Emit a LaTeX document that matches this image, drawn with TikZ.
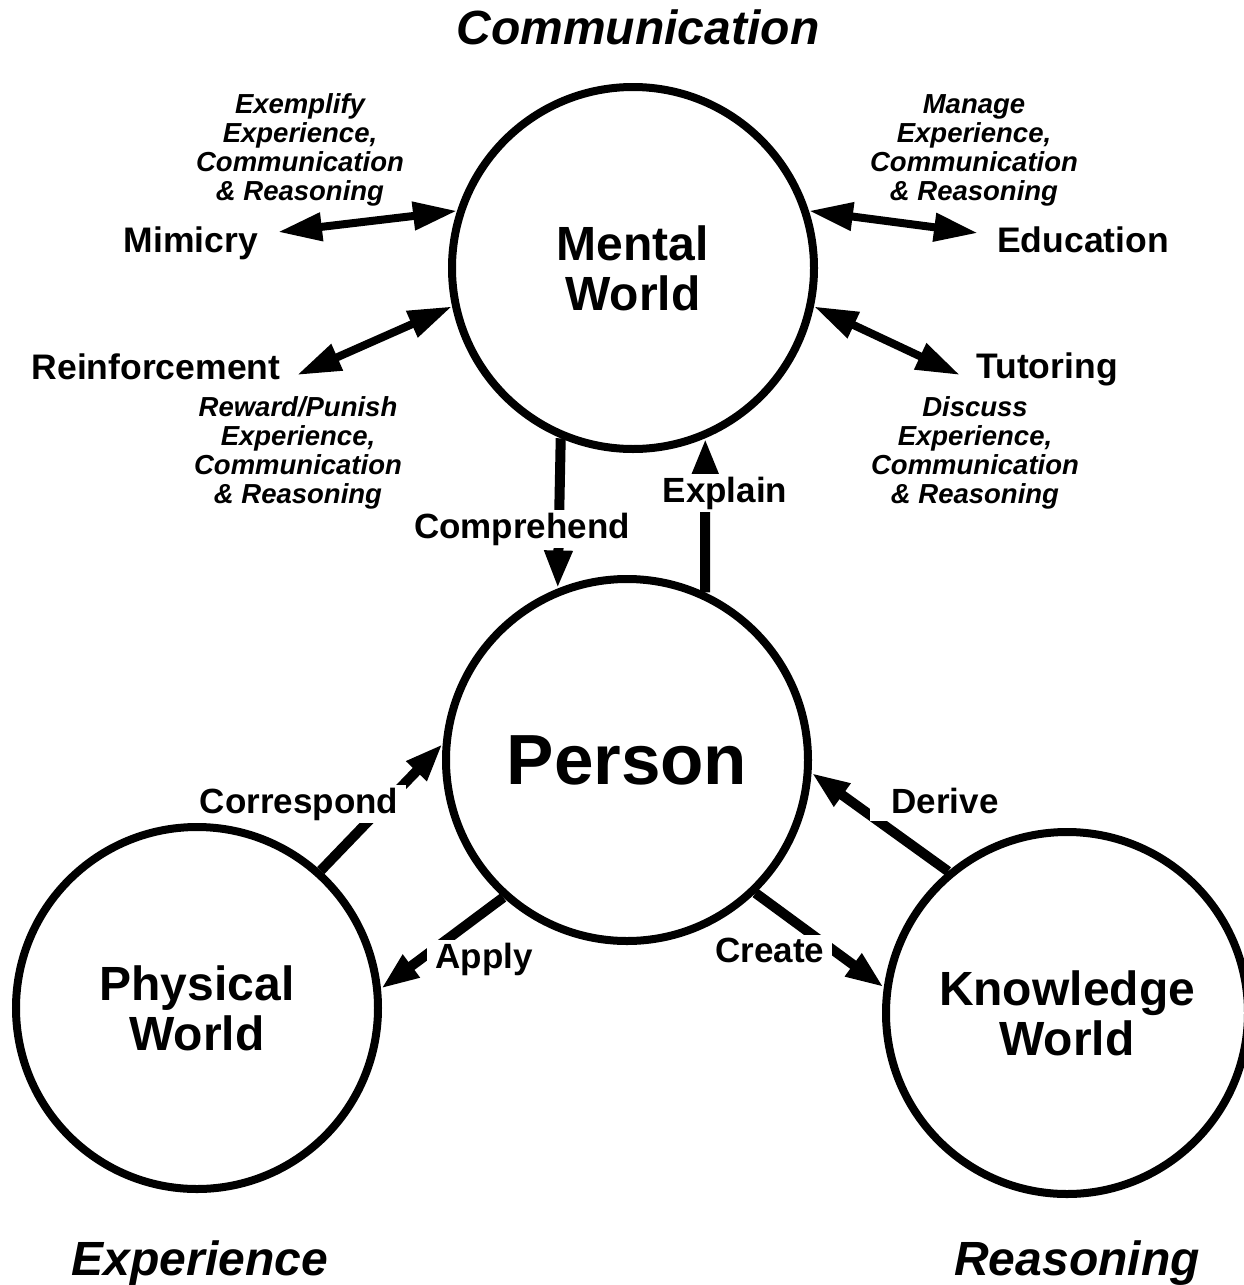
\documentclass[tikz,border=0pt]{standalone}
\usepackage{fontspec}
\setmainfont{Liberation Sans}
\usetikzlibrary{arrows.meta}

\begin{document}
\begin{tikzpicture}[x=1pt,y=-1pt,
        mundo/.style={circle,draw,line width=8pt,minimum size=362pt,inner sep=0pt,align=center,
            font=\fontsize{48}{50}\selectfont\bfseries},
        lado/.style={anchor=base,font=\fontsize{35.5}{38}\selectfont\bfseries},
        nota/.style={align=center,font=\fontsize{27.5}{29}\selectfont\bfseries\itshape},
        verbo/.style={anchor=base,fill=white,inner xsep=8pt,inner ysep=3pt,
            font=\fontsize{35}{38}\selectfont\bfseries},
        titulo/.style={anchor=base,font=\fontsize{48}{50}\selectfont\bfseries\itshape},
        flecha/.style={line width=10pt,-{Triangle[length=38pt,width=26pt]}},
        doble/.style={line width=8pt,{Triangle[length=44pt,width=27pt]}-{Triangle[length=44pt,width=27pt]}}]
    \useasboundingbox (0,0) rectangle (1243,1285);

    % mundos
    \node[mundo] (mental) at (633,268) {Mental\\World};
    \node[mundo,font=\fontsize{71}{71}\selectfont\bfseries] (person) at (627,760) {Person};
    \node[mundo] (fisico) at (197,1008) {Physical\\World};
    \node[mundo] (saber) at (1067,1013) {Knowledge\\World};

    % titulos
    \node[titulo] (communication) at (638,44) {Communication};
    \node[titulo] (experience) at (200,1275) {Experience};
    \node[titulo] (reasoning) at (1077,1275) {Reasoning};

    % alrededor del mundo mental
    \node[lado] (mimicry) at (191,252) {Mimicry};
    \node[lado] (education) at (1083,252) {Education};
    \node[lado] (reinforcement) at (156,379) {Reinforcement};
    \node[lado] (tutoring) at (1047,378) {Tutoring};
    \node[nota] (exemplify) at (300,150) {Exemplify\\Experience,\\Communication\\\& Reasoning};
    \node[nota] (manage) at (974,150) {Manage\\Experience,\\Communication\\\& Reasoning};
    \node[nota] (reward) at (298,453) {Reward/Punish\\Experience,\\Communication\\\& Reasoning};
    \node[nota] (discuss) at (975,453) {Discuss\\Experience,\\Communication\\\& Reasoning};

    \coordinate (mimicry tip) at (278,232);
    \coordinate (reinforcement tip) at (297,375);
    \coordinate (education tip) at (978,233);
    \coordinate (tutoring tip) at (960,375);
    \foreach \quien/\ang in {mimicry/162, reinforcement/192, education/18, tutoring/348}
        \draw[doble] (\quien\space tip) -- (mental.\ang);

    % flechas entre mundos
    \foreach \a/\b in {mental.247/person.112, person.65/mental.293,
            fisico.48/person.175, person.228/fisico.6,
            person.314/saber.172, saber.130/person.356}
        \draw[flecha] (\a) -- (\b);

    % etiquetas sobre las flechas
    \node[verbo] (comprehend) at (522,538) {Comprehend};
    \node[verbo] (explain) at (725,502) {Explain};
    \node[verbo] (correspond) at (299,813) {Correspond};
    \node[verbo,inner xsep=22pt,inner ysep=8pt] (derive) at (945,813) {Derive};
    \node[verbo] (apply) at (484,968) {Apply};
    \node[verbo] (create) at (770,962) {Create};
\end{tikzpicture}
\end{document}
